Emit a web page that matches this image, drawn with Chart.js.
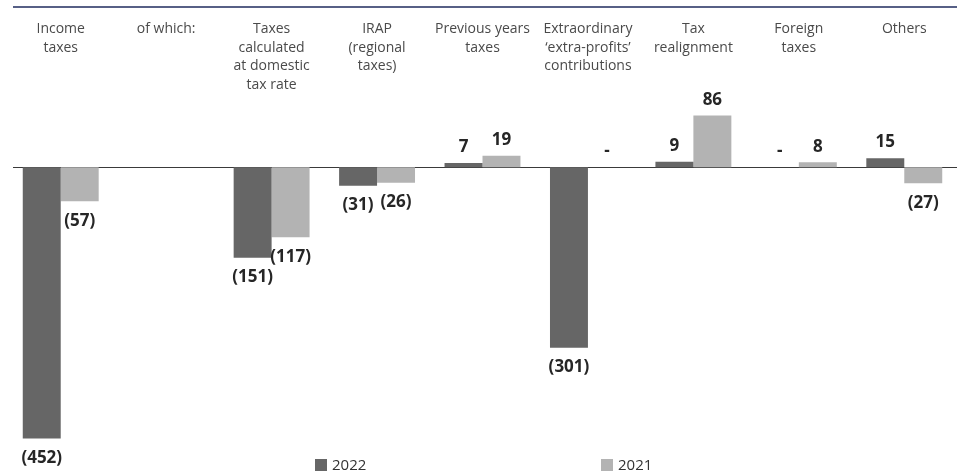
<!DOCTYPE html>
<html>
<head>
<meta charset="utf-8">
<title>Income taxes 2022 vs 2021</title>
<script src="https://cdn.jsdelivr.net/npm/chart.js@4.4.1/dist/chart.umd.min.js"></script>
<style>
  html, body { margin: 0; padding: 0; background: #fff; }
  #wrap { position: relative; width: 957px; height: 473px; }
  #legend { position: absolute; left: 0; top: 454px; width: 957px; height: 19px;
            font: 15px "Open Sans", sans-serif; color: #333; }
  #legend .item { position: absolute; top: 0; white-space: nowrap; }
  #legend .box { display: inline-block; width: 12px; height: 12px; margin-right: 5px; vertical-align: -1px; }
</style>
</head>
<body>
<div id="wrap">
  <canvas id="chart" width="957" height="473"></canvas>
  <div id="legend"></div>
</div>
<script>
// categories (multi-line labels), one bar per year in each
var categories = [
    ['Income', 'taxes'],
    'of which:',
    ['Taxes', 'calculated', 'at domestic', 'tax rate'],
    ['IRAP', '(regional', 'taxes)'],
    ['Previous years', 'taxes'],
    ['Extraordinary', '\u2018extra-profits\u2019', 'contributions'],
    ['Tax', 'realignment'],
    ['Foreign', 'taxes'],
    'Others'
];
var years = ['2022', '2021'];
// null = no value shown, 0 = shown as "-"
var values2022 = [-452, null, -151, -31, 7, -301, 9, 0, 15];
var values2021 = [-57, null, -117, -26, 19, 0, 86, 8, -27];

var colors = ['#666666', '#b3b3b3'];
var labelFont = '"Open Sans", sans-serif';

function formatValue(v) {
    if (v === 0) return '-';
    return v < 0 ? '(' + (-v) + ')' : String(v);
}

// bold numbers above / below each bar
var valueLabels = {
    id: 'valueLabels',
    afterDatasetsDraw: function(chart) {
        var ctx = chart.ctx;
        ctx.save();
        ctx.font = 'bold 17px ' + labelFont;
        ctx.fillStyle = '#262626';
        ctx.textAlign = 'center';
        chart.data.datasets.forEach(function(ds, di) {
            var meta = chart.getDatasetMeta(di);
            meta.data.forEach(function(bar, i) {
                var v = ds.data[i];
                if (v === null || v === undefined) return;
                if (v < 0) {
                    ctx.textBaseline = 'top';
                    ctx.fillText(formatValue(v), bar.x, bar.y + 11);
                } else {
                    ctx.textBaseline = 'bottom';
                    ctx.fillText(formatValue(v), bar.x, bar.y - 7);
                }
            });
        });
        ctx.restore();
    }
};

// navy rule on top and the zero line
var rules = {
    id: 'rules',
    beforeDatasetsDraw: function(chart) {
        var ctx = chart.ctx;
        var y0 = Math.round(chart.scales.y.getPixelForValue(0)) + 0.5;
        ctx.save();
        ctx.strokeStyle = '#1f2b5e';
        ctx.lineWidth = 1.5;
        ctx.beginPath();
        ctx.moveTo(13, 7);
        ctx.lineTo(chart.width, 7);
        ctx.stroke();
        ctx.strokeStyle = '#3a3a3a';
        ctx.lineWidth = 1;
        ctx.beginPath();
        ctx.moveTo(13, y0);
        ctx.lineTo(chart.chartArea.right, y0);
        ctx.stroke();
        ctx.restore();
    }
};

var chart = new Chart(document.getElementById('chart'), {
    type: 'bar',
    data: {
        labels: categories,
        datasets: [
            { label: years[0], data: values2022, backgroundColor: colors[0] },
            { label: years[1], data: values2021, backgroundColor: colors[1] }
        ]
    },
    options: {
        responsive: false,
        animation: false,
        devicePixelRatio: 1,
        layout: { padding: { top: 17, left: 8, right: 0, bottom: 28 } },
        datasets: { bar: { categoryPercentage: 0.72, barPercentage: 1.0, borderWidth: 0 } },
        scales: {
            x: {
                position: 'top',
                grid: { display: false, drawTicks: false },
                border: { display: false },
                ticks: {
                    autoSkip: false,
                    maxRotation: 0,
                    crossAlign: 'far',
                    padding: 3,
                    color: '#4a4a4a',
                    font: { family: labelFont, size: 14, lineHeight: 1.32 }
                }
            },
            y: {
                min: -463,
                max: 117,
                display: false
            }
        },
        plugins: {
            legend: { display: false },
            tooltip: { enabled: false }
        }
    },
    plugins: [rules, valueLabels]
});

// legend below the plot
var legend = document.getElementById('legend');
var legendLeft = [315, 601];
chart.data.datasets.forEach(function(ds, i) {
    var item = document.createElement('span');
    item.className = 'item';
    item.style.left = legendLeft[i] + 'px';
    item.innerHTML = '<span class="box" style="background:' + ds.backgroundColor + '"></span>' + ds.label;
    legend.appendChild(item);
});
</script>
</body>
</html>
